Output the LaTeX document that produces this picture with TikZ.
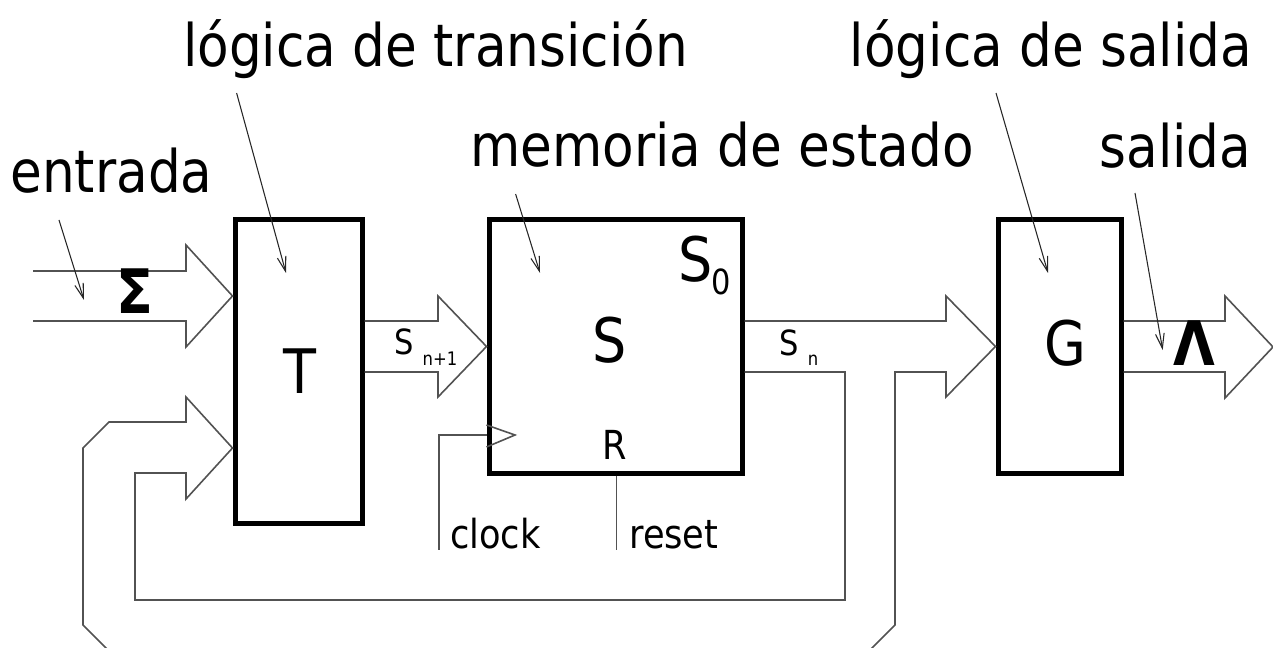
\documentclass[tikz,border=0pt]{standalone}
\usepackage{fontspec}
\setmainfont{DejaVu Sans}[FakeStretch=0.88]
\usetikzlibrary{arrows.meta}
\begin{document}
\begin{tikzpicture}[x=0.75pt,y=-0.75pt,
  box/.style={draw=black, line width=3.75pt, inner sep=0pt},
  conn/.style={draw=black!68, line width=1.2pt, line join=miter},
  ann/.style={draw=black!85, line width=0.8pt, -{Straight Barb[length=11pt,width=6.5pt]}},
  head/.style={inner sep=0pt, anchor=base, font=\fontsize{44}{50}\selectfont},
  big/.style={inner sep=0pt, anchor=base, font=\fontsize{46}{52}\selectfont},
  sym/.style={inner sep=0pt, anchor=base, font=\fontsize{46}{50}\selectfont\bfseries},
  mid/.style={inner sep=0pt, anchor=base, font=\fontsize{30}{34}\selectfont},
  sml/.style={inner sep=0pt, anchor=base, font=\fontsize{26}{30}\selectfont},
  sub/.style={inner sep=0pt, anchor=base, font=\fontsize{14}{16}\selectfont}]
\useasboundingbox (0,0) rectangle (1273,648);
\clip (0,0) rectangle (1273,648);

% boxes
\node[box, minimum width=95.25pt, minimum height=227.25pt] (T) at (298.5,371.5) {};
\node[box, minimum width=189.75pt, minimum height=189.75pt] (S) at (615.5,346.5) {};
\node[box, minimum width=92.25pt, minimum height=189.75pt] (G) at (1059.5,346.5) {};

% box labels
\node[big] (Tl) at (300,393) {T};
\node[big] (Sl) at (610,362) {S};
\node[big] (Gl) at (1065,365) {G};
\node[big] (S0) at (696,282) {S};
\node[sml] (S0i) at (721.5,295) {0};
\node[mid] (Rl) at (615,459) {R};

% fat arrow: input Sigma
\draw[conn] (33,271) -- (186,271) -- (186,245) -- (T.west |- 0,296) -- (186,347) -- (186,321) -- (33,321);
\node[sym] (sig) at (134.5,314) {Σ};

% fat arrow: S_{n+1}
\draw[conn] (T.east |- 0,321) -- (438,321) -- (438,296) -- (S.west) -- (438,397) -- (438,372) -- (T.east |- 0,372);
\node[sml] (sn1) at (404,354) {S};
\node[sub] (sn1i) at (440,365.7) {n+1};

% fat arrow: S_n to G, with feedback loops
\draw[conn] (S.east |- 0,321) -- (946,321) -- (946,296) -- (G.west) -- (946,397) -- (946,372)
  -- (895,372) -- (895,625) -- (865,655) -- (113,655) -- (83,625) -- (83,448) -- (109,422) -- (186,422)
  -- (186,397) -- (T.west |- 0,448) -- (186,499) -- (186,473) -- (135,473) -- (135,600) -- (845,600)
  -- (845,372) -- (S.east |- 0,372);
\node[sml] (sn) at (789,355) {S};
\node[sub] (sni) at (813,365.7) {n};

% fat arrow: Lambda output
\draw[conn] (G.east |- 0,321) -- (1225,321) -- (1225,296) -- (1273,347) -- (1225,398) -- (1225,372) -- (G.east |- 0,372);
\node[sym] (lam) at (1194,365) {Λ};

% clock and reset
\draw[conn] (S.west |- 0,425) -- (515,435) -- (S.west |- 0,447);
\coordinate (ck) at (439,550);
\coordinate (rs) at (616.5,550);
\draw[conn] (S.west |- 0,435) -- (439,435) -- (ck);
\draw[conn] (S.south -| rs) -- (rs);
\node[mid, anchor=base west] (clk) at (450,548) {clock};
\node[mid, anchor=base west] (rst) at (629,548) {reset};

% annotation labels
\node[head] (lt) at (435.5,67) {lógica de transición};
\node[head] (ls) at (1051,67) {lógica de salida};
\node[head] (me) at (722,167) {memoria de estado};
\node[head] (en) at (111.5,193) {entrada};
\node[head] (sa) at (1175.5,168) {salida};

% annotation arrows
\coordinate (a1s) at (59,220);   \coordinate (a1e) at (84,300);
\coordinate (a2s) at (236.6,93); \coordinate (a2e) at (286,273);
\coordinate (a3s) at (515.6,194); \coordinate (a3e) at (540,273);
\coordinate (a4s) at (996,93);   \coordinate (a4e) at (1048,273);
\coordinate (a5s) at (1135,193); \coordinate (a5e) at (1162.7,350);
\draw[ann] (a1s) -- (a1e);
\draw[ann] (a2s) -- (a2e);
\draw[ann] (a3s) -- (a3e);
\draw[ann] (a4s) -- (a4e);
\draw[ann] (a5s) -- (a5e);
\end{tikzpicture}
\end{document}
